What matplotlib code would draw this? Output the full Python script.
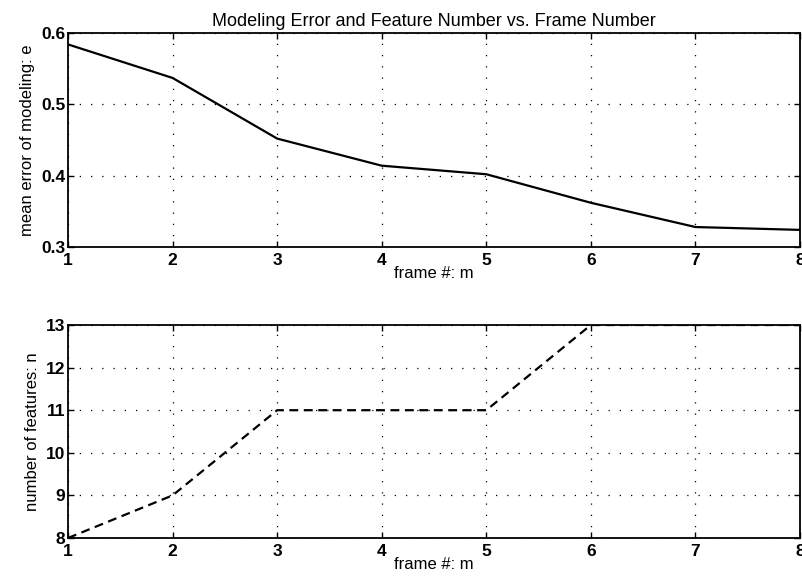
import matplotlib
matplotlib.use("Agg")
import matplotlib.pyplot as plt

frames = [1, 2, 3, 4, 5, 6, 7, 8]
mean_error = [0.584, 0.537, 0.452, 0.414, 0.402, 0.362, 0.328, 0.324]
n_features = [8, 9, 11, 11, 11, 13, 13, 13]

plt.rcParams['font.family'] = ['Liberation Sans', 'DejaVu Sans']

fig = plt.figure(figsize=(8.03, 5.82), dpi=100)
ax1 = fig.add_axes([68 / 803, 1 - 247 / 582, 732 / 803, 214 / 582])
ax2 = fig.add_axes([68 / 803, 1 - 538 / 582, 732 / 803, 213 / 582])

ax1.plot(frames, mean_error, color='black', lw=1.6)
ax1.set_xlim(1, 8)
ax1.set_ylim(0.3, 0.6)
ax1.set_yticks([0.3, 0.4, 0.5, 0.6])
ax1.set_yticklabels(['0.3', '0.4', '0.5', '0.6'])
ax1.set_title('Modeling Error and Feature Number vs. Frame Number', fontsize=13, pad=5)
ax1.set_ylabel('mean error of modeling: e', fontsize=12, labelpad=4)

ax2.plot(frames, n_features, color='black', lw=1.6, ls=(0, (4, 2.5)))
ax2.set_xlim(1, 8)
ax2.set_ylim(8, 13)
ax2.set_yticks([8, 9, 10, 11, 12, 13])
ax2.set_ylabel('number of features: n', fontsize=12, labelpad=4)

for ax in (ax1, ax2):
    ax.set_xticks(frames)
    ax.set_xlabel('frame #: m', fontsize=12, labelpad=-1)
    ax.grid(True, color='black', ls=(0, (1, 8)), lw=0.9)
    ax.tick_params(direction='in', length=4, width=1, labelsize=12.5, pad=2,
                   top=True, right=True)
    ax.tick_params(axis='x', pad=4)
    for lab in ax.get_xticklabels() + ax.get_yticklabels():
        lab.set_fontweight('bold')
    for sp in ax.spines.values():
        sp.set_linewidth(1.3)

fig.savefig('out.png', dpi=100)
